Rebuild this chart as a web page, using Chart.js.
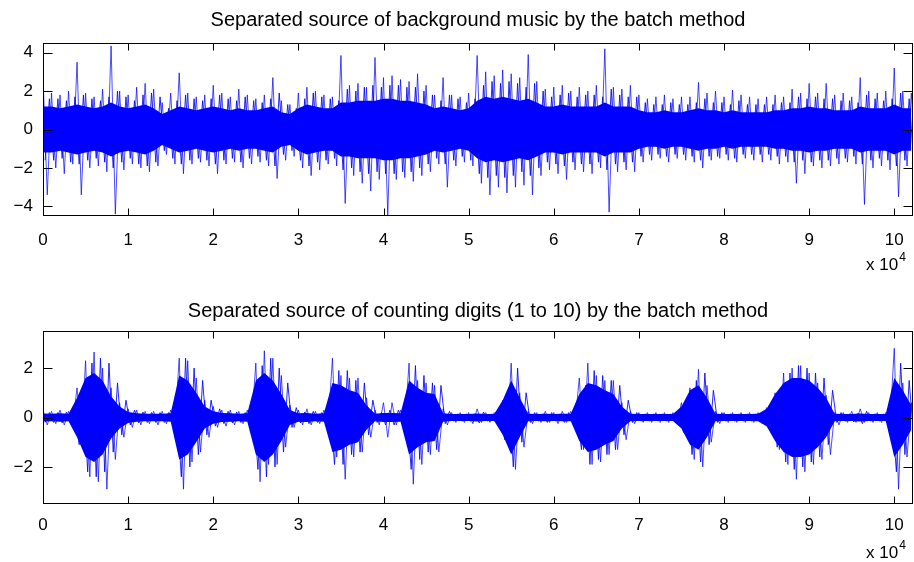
<!DOCTYPE html>
<html>
<head>
<meta charset="utf-8">
<script src="https://cdn.jsdelivr.net/npm/chart.js@4.4.1/dist/chart.umd.min.js"></script>
<style>
  html, body { margin: 0; padding: 0; background: #fff; }
  #wrap { position: relative; width: 914px; height: 562px; }
  .panel { position: absolute; left: 0; width: 914px; }
</style>
</head>
<body>
<div id="wrap">
  <div class="panel" style="top:0;height:270px"><canvas id="musicChart" width="914" height="270"></canvas></div>
  <div class="panel" style="top:270px;height:292px"><canvas id="digitsChart" width="914" height="292"></canvas></div>
</div>
<script>
// sample index in units of 10^4, one envelope value every 1000 samples
const STEP = 0.1;
const X_MAX = 10.22;

const xTicks = [0, 1, 2, 3, 4, 5, 6, 7, 8, 9, 10];
const musicYTicks = [-4, -2, 0, 2, 4];
const digitsYTicks = [-2, 0, 2];

// background music: positive peaks, negative peaks
const musicHi = [
  2.8, 1.9, 1.8, 2.0, 3.5, 1.9, 1.7, 2.1, 4.35, 2.0,
  1.8, 2.2, 2.4, 2.1, 1.4, 1.9, 2.95, 1.9, 1.7, 1.8,
  2.3, 1.9, 1.7, 2.1, 1.8, 1.6, 1.8, 2.7, 1.5, 1.3,
  1.9, 2.2, 2.0, 1.8, 1.7, 3.85, 2.3, 2.4, 2.2, 3.75,
  2.7, 2.8, 2.6, 2.5, 2.9, 2.3, 1.8, 2.7, 1.8, 1.7,
  1.9, 3.85, 3.0, 2.8, 3.1, 2.9, 2.7, 3.9, 2.5, 2.1,
  2.2, 2.3, 2.0, 2.2, 2.0, 2.3, 4.2, 2.2, 2.1, 2.3,
  1.8, 1.6, 1.7, 1.8, 1.6, 1.7, 1.7, 2.45, 1.9, 2.0,
  1.7, 2.05, 1.8, 1.7, 1.6, 1.7, 1.8, 1.7, 2.1, 1.9,
  2.4, 1.9, 2.4, 1.8, 1.9, 1.7, 2.7, 2.0, 1.9, 2.0,
  3.2, 2.0, 1.9
];
const musicLo = [
  -3.4, -2.0, -2.3, -1.8, -3.4, -2.0, -1.9, -2.2, -4.4, -2.1,
  -1.8, -2.0, -2.2, -1.9, -1.3, -1.8, -2.3, -1.8, -1.7, -1.9,
  -2.3, -1.8, -1.7, -2.0, -1.8, -1.7, -1.9, -2.55, -1.6, -1.4,
  -2.0, -2.4, -2.1, -1.8, -1.9, -3.85, -2.4, -2.8, -3.2, -2.6,
  -4.45, -2.6, -2.5, -2.7, -2.4, -2.2, -1.8, -3.0, -1.9, -1.7,
  -1.9, -2.8, -3.4, -3.0, -3.3, -3.0, -2.9, -3.4, -2.4, -2.1,
  -2.3, -2.6, -2.1, -2.2, -2.3, -2.0, -4.3, -2.2, -2.1, -2.2,
  -1.7, -1.6, -1.5, -1.7, -1.5, -1.6, -1.7, -2.0, -1.6, -1.5,
  -1.6, -1.7, -1.5, -1.6, -1.7, -1.6, -1.8, -1.7, -2.8, -2.3,
  -1.9, -2.0, -1.9, -1.8, -1.7, -1.8, -3.9, -2.0, -1.9, -2.1,
  -3.5, -1.9, -1.8
];
// half-width reached by the dense fringe of spikes
const musicEdge = [
  1.6, 1.6, 1.5, 1.7, 1.8, 1.6, 1.5, 1.7, 2.0, 1.7,
  1.5, 1.8, 1.9, 1.7, 1.1, 1.5, 1.8, 1.6, 1.5, 1.6,
  1.8, 1.6, 1.5, 1.7, 1.5, 1.4, 1.6, 1.9, 1.3, 1.1,
  1.6, 1.9, 1.7, 1.6, 1.5, 2.1, 2.0, 2.2, 2.3, 2.2,
  2.3, 2.3, 2.2, 2.2, 2.0, 1.8, 1.5, 1.8, 1.6, 1.4,
  1.6, 2.3, 2.5, 2.4, 2.5, 2.4, 2.2, 2.4, 2.0, 1.7,
  1.8, 1.9, 1.7, 1.8, 1.8, 1.7, 2.1, 1.8, 1.7, 1.7,
  1.4, 1.3, 1.3, 1.4, 1.3, 1.3, 1.4, 1.6, 1.4, 1.4,
  1.3, 1.5, 1.3, 1.3, 1.3, 1.3, 1.4, 1.4, 1.7, 1.6,
  1.7, 1.6, 1.6, 1.5, 1.5, 1.4, 1.8, 1.6, 1.5, 1.6,
  1.9, 1.6, 1.5
];
// half-width of the solid body
const musicBody = [
  1.2, 1.2, 1.1, 1.2, 1.3, 1.2, 1.1, 1.2, 1.4, 1.2,
  1.1, 1.2, 1.3, 1.1, 0.8, 1.0, 1.2, 1.1, 1.0, 1.1,
  1.2, 1.1, 1.0, 1.1, 1.0, 1.0, 1.1, 1.2, 0.9, 0.8,
  1.1, 1.3, 1.2, 1.1, 1.1, 1.4, 1.4, 1.5, 1.5, 1.5,
  1.6, 1.6, 1.5, 1.5, 1.4, 1.3, 1.1, 1.2, 1.1, 1.0,
  1.1, 1.5, 1.7, 1.6, 1.7, 1.6, 1.5, 1.6, 1.4, 1.2,
  1.2, 1.3, 1.2, 1.2, 1.2, 1.2, 1.4, 1.2, 1.2, 1.2,
  1.0, 0.9, 0.9, 1.0, 0.9, 0.9, 1.0, 1.1, 1.0, 1.0,
  0.9, 1.0, 0.9, 0.9, 0.9, 0.9, 1.0, 1.0, 1.1, 1.1,
  1.2, 1.1, 1.1, 1.0, 1.0, 1.0, 1.2, 1.1, 1.1, 1.1,
  1.3, 1.1, 1.1
];

// counting digits: positive peaks, negative peaks
const digitsHi = [
  0.3, 0.25, 0.3, 0.25, 1.2, 2.3, 2.65, 2.0, 1.2, 0.6,
  0.35, 0.3, 0.25, 0.25, 0.25, 0.3, 2.4, 2.3, 1.6, 0.7,
  0.45, 0.3, 0.3, 0.25, 0.3, 2.2, 2.7, 2.4, 1.7, 0.5,
  0.3, 0.35, 0.25, 0.3, 2.4, 1.7, 1.6, 1.6, 0.8, 0.3,
  0.6, 0.6, 0.3, 2.2, 1.5, 1.4, 1.3, 0.35, 0.2, 0.2,
  0.2, 0.35, 0.2, 0.2, 0.7, 2.2, 1.0, 0.25, 0.2, 0.25,
  0.2, 0.25, 0.25, 1.6, 2.2, 1.7, 1.5, 1.5, 0.6, 0.25,
  0.2, 0.2, 0.2, 0.2, 0.2, 0.6, 1.2, 1.95, 1.3, 0.25,
  0.2, 0.2, 0.2, 0.2, 0.2, 0.4, 1.0, 1.8, 2.0, 2.1,
  1.8, 1.4, 0.9, 0.2, 0.2, 0.25, 0.35, 0.2, 0.2, 0.2,
  2.8, 1.4, 0.6
];
const digitsLo = [
  -0.3, -0.25, -0.3, -0.25, -0.9, -2.4, -2.6, -2.9, -1.7, -0.8,
  -0.4, -0.3, -0.25, -0.3, -0.25, -0.3, -2.9, -1.8, -1.4, -0.8,
  -0.4, -0.35, -0.3, -0.25, -0.3, -2.6, -1.9, -1.9, -1.2, -0.4,
  -0.3, -0.3, -0.25, -0.3, -1.6, -2.5, -1.6, -1.4, -0.8, -0.3,
  -0.8, -0.3, -0.3, -2.7, -1.9, -1.5, -1.4, -0.3, -0.2, -0.2,
  -0.25, -0.2, -0.2, -0.2, -1.0, -2.1, -1.2, -0.25, -0.2, -0.2,
  -0.25, -0.2, -0.2, -1.3, -1.9, -1.8, -1.5, -1.3, -0.9, -0.25,
  -0.2, -0.2, -0.2, -0.2, -0.2, -0.7, -1.7, -2.0, -1.0, -0.25,
  -0.2, -0.2, -0.2, -0.2, -0.25, -0.4, -1.3, -1.9, -2.5, -2.2,
  -1.9, -1.7, -1.5, -0.3, -0.2, -0.2, -0.2, -0.2, -0.2, -0.2,
  -2.9, -1.6, -0.8
];
const digitsEdge = [
  0.2, 0.2, 0.22, 0.2, 1.1, 2.2, 2.4, 2.2, 1.4, 0.7,
  0.3, 0.22, 0.2, 0.2, 0.2, 0.22, 2.4, 2.0, 1.5, 0.7,
  0.35, 0.25, 0.22, 0.2, 0.22, 2.1, 2.4, 2.0, 1.4, 0.4,
  0.22, 0.25, 0.2, 0.22, 1.9, 1.9, 1.5, 1.4, 0.7, 0.2,
  0.3, 0.3, 0.22, 2.1, 1.7, 1.4, 1.3, 0.25, 0.15, 0.15,
  0.15, 0.22, 0.15, 0.15, 0.9, 2.0, 1.0, 0.2, 0.15, 0.2,
  0.15, 0.2, 0.2, 1.3, 1.9, 1.7, 1.5, 1.3, 0.7, 0.2,
  0.15, 0.15, 0.15, 0.15, 0.15, 0.6, 1.5, 1.8, 1.1, 0.2,
  0.15, 0.15, 0.15, 0.15, 0.18, 0.4, 1.2, 1.8, 2.1, 2.0,
  1.8, 1.6, 1.1, 0.2, 0.15, 0.18, 0.25, 0.15, 0.15, 0.15,
  2.2, 1.5, 0.7
];
const digitsBody = [
  0.16, 0.15, 0.17, 0.15, 0.8, 1.6, 1.8, 1.5, 0.85, 0.45,
  0.22, 0.17, 0.15, 0.15, 0.15, 0.17, 1.7, 1.5, 1.0, 0.45,
  0.25, 0.18, 0.17, 0.15, 0.17, 1.5, 1.8, 1.5, 0.95, 0.3,
  0.17, 0.18, 0.15, 0.17, 1.4, 1.3, 1.1, 1.0, 0.5, 0.15,
  0.18, 0.18, 0.17, 1.5, 1.2, 1.0, 0.95, 0.17, 0.14, 0.14,
  0.14, 0.16, 0.14, 0.14, 0.7, 1.5, 0.8, 0.15, 0.14, 0.15,
  0.14, 0.15, 0.15, 0.95, 1.4, 1.3, 1.1, 0.95, 0.45, 0.15,
  0.14, 0.14, 0.14, 0.14, 0.14, 0.45, 1.1, 1.3, 0.8, 0.15,
  0.14, 0.14, 0.14, 0.14, 0.15, 0.35, 0.95, 1.4, 1.6, 1.6,
  1.5, 1.2, 0.8, 0.15, 0.14, 0.14, 0.16, 0.14, 0.14, 0.14,
  1.6, 1.1, 0.5
];

const BLUE = '#0000ff';
const FONT = '"Liberation Sans", Arial, Helvetica, sans-serif';

function minus(v) {
  return v < 0 ? '\u2212' + Math.abs(v) : String(v);
}

// solid body on top, fringe zigzag, then the peak-to-peak zigzag underneath
function waveDatasets(hi, lo, edge, body) {
  const peaks = [];
  hi.forEach((v, i) => {
    peaks.push({ x: i * STEP, y: v });
    peaks.push({ x: i * STEP + STEP / 2, y: lo[i] });
  });
  const fringe = [];
  edge.forEach((v, i) => {
    fringe.push({ x: i * STEP + STEP / 4, y: -v });
    fringe.push({ x: i * STEP + STEP * 3 / 4, y: v });
  });
  return [
    {
      data: body.map((v, i) => ({ x: i * STEP, y: v })),
      borderColor: 'rgba(0,0,0,0)', borderWidth: 0,
      backgroundColor: BLUE, fill: '+1'
    },
    {
      data: body.map((v, i) => ({ x: i * STEP, y: -v })),
      borderColor: 'rgba(0,0,0,0)', borderWidth: 0, fill: false
    },
    { data: fringe, borderColor: 'rgba(0,0,255,0.85)', borderWidth: 1, fill: false },
    { data: peaks, borderColor: 'rgba(0,0,255,0.7)', borderWidth: 1, fill: false }
  ];
}

// box, inward ticks on all sides, title and the x10^4 exponent
const matlabFrame = {
  id: 'matlabFrame',
  afterDraw(chart, args, opts) {
    const { ctx, chartArea: a, scales: { x, y } } = chart;
    const line = (x1, y1, x2, y2) => {
      ctx.beginPath(); ctx.moveTo(x1, y1); ctx.lineTo(x2, y2); ctx.stroke();
    };
    ctx.save();
    ctx.strokeStyle = '#000';
    ctx.lineWidth = 1;
    const L = Math.round(a.left) + 0.5, R = Math.round(a.right) - 0.5;
    const T = Math.round(a.top) + 0.5, B = Math.round(a.bottom) - 0.5;
    ctx.strokeRect(L, T, R - L, B - T);
    x.ticks.forEach(t => {
      const px = Math.round(x.getPixelForValue(t.value)) + 0.5;
      line(px, B, px, B - 7);
      line(px, T, px, T + 7);
    });
    y.ticks.forEach(t => {
      const py = Math.round(y.getPixelForValue(t.value)) + 0.5;
      line(L, py, L + 9, py);
      line(R, py, R - 9, py);
    });

    ctx.fillStyle = '#000';
    ctx.textBaseline = 'middle';
    ctx.textAlign = 'center';
    ctx.font = '20px ' + FONT;
    ctx.fillText(opts.title, (a.left + a.right) / 2, opts.titleY);

    ctx.textAlign = 'left';
    ctx.font = '17px ' + FONT;
    const base = 'x 10';
    ctx.fillText(base, opts.expX, opts.expY);
    const w = ctx.measureText(base).width;
    ctx.font = '12px ' + FONT;
    ctx.fillText('4', opts.expX + w + 1, opts.expY - 7);
    ctx.restore();
  }
};

function makeChart(id, wave, yTicks, yRange, frame, pad) {
  return new Chart(document.getElementById(id), {
    type: 'line',
    data: { datasets: wave },
    plugins: [matlabFrame],
    options: {
      responsive: false,
      animation: false,
      events: [],
      layout: { padding: { top: pad.top, right: 1, left: 0, bottom: 0 } },
      elements: { point: { radius: 0 }, line: { tension: 0 } },
      scales: {
        x: {
          type: 'linear', min: 0, max: X_MAX,
          grid: { display: false, drawTicks: false },
          border: { display: false },
          afterBuildTicks: s => { s.ticks = xTicks.map(v => ({ value: v })); },
          afterFit: s => {
            s.height = pad.xAxis;
            s.paddingLeft = 0;
            s.paddingRight = 0;
          },
          ticks: {
            color: '#000', padding: pad.xLabel, maxRotation: 0,
            autoSkip: false, font: { family: FONT, size: 17 },
            callback: v => String(v)
          }
        },
        y: {
          min: -yRange, max: yRange,
          grid: { display: false, drawTicks: false },
          border: { display: false },
          afterBuildTicks: s => { s.ticks = yTicks.map(v => ({ value: v })); },
          afterFit: s => { s.width = 43; },
          ticks: {
            color: '#000', padding: 10,
            font: { family: FONT, size: 17 },
            callback: v => minus(v)
          }
        }
      },
      plugins: {
        legend: { display: false },
        tooltip: { enabled: false },
        matlabFrame: frame
      }
    }
  });
}

makeChart('musicChart', waveDatasets(musicHi, musicLo, musicEdge, musicBody), musicYTicks, 4.5,
  { title: 'Separated source of background music by the batch method', titleY: 20, expX: 866, expY: 265 },
  { top: 43, xAxis: 54, xLabel: 14 });

makeChart('digitsChart', waveDatasets(digitsHi, digitsLo, digitsEdge, digitsBody), digitsYTicks, 3.5,
  { title: 'Separated source of counting digits (1 to 10) by the batch method', titleY: 41, expX: 866, expY: 283 },
  { top: 61, xAxis: 58, xLabel: 11 });
</script>
</body>
</html>
